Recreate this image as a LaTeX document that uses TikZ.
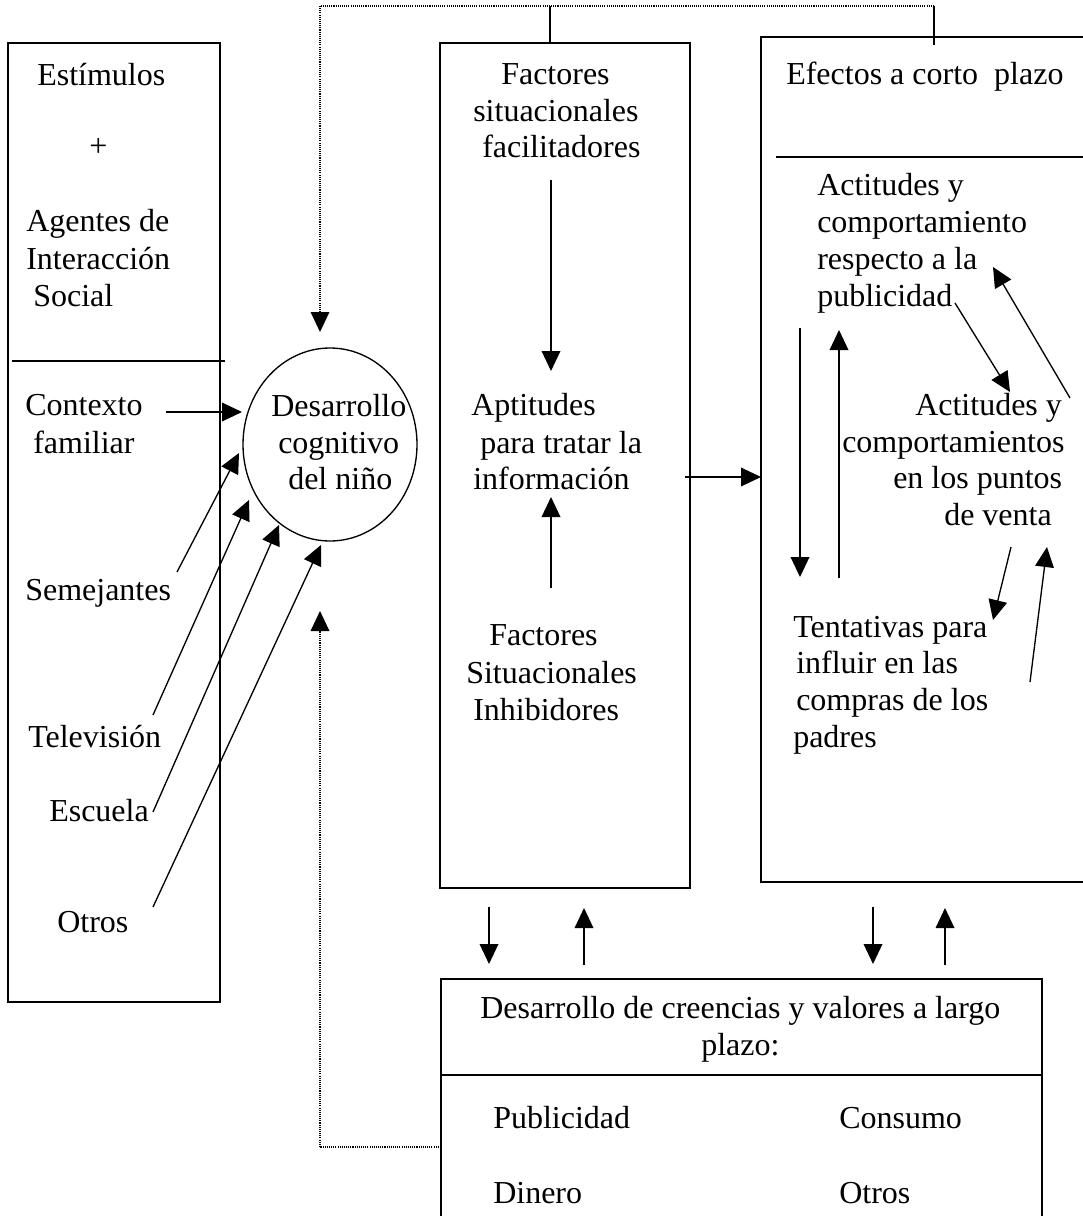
\documentclass[tikz,border=0pt]{standalone}
\usepackage{fontspec}
\setmainfont{Liberation Serif}
\usetikzlibrary{arrows.meta,shapes.geometric,fit}
\begin{document}
\begin{tikzpicture}[x=0.75pt,y=-0.75pt,
  txt/.style={anchor=base west,inner sep=0pt,font=\fontsize{24}{27.6}\selectfont},
  boxline/.style={line width=1.3pt},
  boxnode/.style={draw,boxline,inner sep=0pt},
  arr/.style={line width=1pt,-{Triangle[length=15pt,width=14pt]}},
  dots/.style={line width=0.9pt,dash pattern=on 0.8pt off 0.8pt}]
\useasboundingbox (0,0) rectangle (1082,1216);
\fill[white] (0,0) rectangle (1082,1216);

% ---------- boxes ----------
\node[boxnode,fit={(8,43)(220,1002)}] (lbox) {};
\draw[boxline] (12,361) -- (225,361);
\node[boxnode,fit={(440,43)(690,888)}] (mbox) {};
\draw[boxline] (1095,37) -- (761,37) -- (761,882) -- (1095,882);
\draw[boxline] (776,157) -- (1095,157);
\node[boxnode,fit={(441,979)(1042,1235)}] (bbox) {};
\draw[boxline] (441,1075) -- (1042,1075);
\node[ellipse,draw,line width=1pt,inner sep=0pt,minimum width=174*0.75pt,minimum height=193*0.75pt] (circ) at (330,444.5) {};

% ---------- texts ----------
\node[txt] (t1) at (37,86) {Estímulos};
\node[txt] (t2) at (89,157) {+};
\node[txt] (t3) at (26,232) {Agentes de};
\node[txt] (t4) at (26,269) {Interacción};
\node[txt] (t5) at (33,306) {Social};
\node[txt] (t6) at (25,415) {Contexto};
\node[txt] (t7) at (33,453) {familiar};
\node[txt] (t8) at (25,600) {Semejantes};
\node[txt] (t9) at (28,747) {Televisión};
\node[txt] (t10) at (49,821) {Escuela};
\node[txt] (t11) at (57,932) {Otros};
\node[txt] (c1) at (271,416) {Desarrollo};
\node[txt] (c2) at (278,453) {cognitivo};
\node[txt] (c3) at (288,489) {del niño};
\node[txt] (m1) at (501,85) {Factores};
\node[txt] (m2) at (473,122) {situacionales};
\node[txt] (m3) at (482,158) {facilitadores};
\node[txt] (m4) at (471,415) {Aptitudes};
\node[txt] (m5) at (480,453) {para tratar la};
\node[txt] (m6) at (473,489) {información};
\node[txt] (m7) at (489,645) {Factores};
\node[txt] (m8) at (466,683) {Situacionales};
\node[txt] (m9) at (473,720) {Inhibidores};
\node[txt] (r0) at (786,85) {Efectos a corto~~plazo};
\node[txt] (r1) at (817,196) {Actitudes y};
\node[txt] (r2) at (817,233) {comportamiento};
\node[txt] (r3) at (817,269) {respecto a la};
\node[txt] (r4) at (817,306) {publicidad};
\node[txt] (r5) at (915,415) {Actitudes y};
\node[txt] (r6) at (842,452) {comportamientos};
\node[txt] (r7) at (893,488) {en los puntos};
\node[txt] (r8) at (944,525) {de venta};
\node[txt] (r9) at (793,637) {Tentativas para};
\node[txt] (r10) at (796,673) {influir en las};
\node[txt] (r11) at (796,710) {compras de los};
\node[txt] (r12) at (793,747) {padres};
\node[txt] (b1) at (480,1018) {Desarrollo de creencias y valores a largo};
\node[txt] (b2) at (701,1055) {plazo:};
\node[txt] (b3) at (493,1128) {Publicidad};
\node[txt] (b4) at (839,1128) {Consumo};
\node[txt] (b5) at (493,1203) {Dinero};
\node[txt] (b6) at (839,1203) {Otros};

% ---------- connector end points ----------
\coordinate (ctxS) at (166,412);   \coordinate (ctxE) at (242,412);
\coordinate (semS) at (177,572);   \coordinate (semE) at (239,453);
\coordinate (telS) at (153,715);   \coordinate (telE) at (249,500);
\coordinate (escS) at (153,812);   \coordinate (escE) at (279,525);
\coordinate (otrS) at (153,907);   \coordinate (otrE) at (321,545);
\coordinate (topL) at (320,6);     \coordinate (topR) at (934,6);
\coordinate (topM) at (550,6);     \coordinate (topTip) at (320,332);
\coordinate (mTop) at (550,43);    \coordinate (rTop) at (934,45);
\coordinate (botA) at (441,1147);  \coordinate (botB) at (320,1147);
\coordinate (botTip) at (320,611);
\coordinate (mdS) at (551,180);    \coordinate (mdE) at (551,371);
\coordinate (muS) at (551,588);    \coordinate (muE) at (551,497);
\coordinate (hS) at (685,477);     \coordinate (hE) at (761,477);
\coordinate (rdS) at (800,328);    \coordinate (rdE) at (800,577);
\coordinate (ruS) at (839,578);    \coordinate (ruE) at (839,330);
\coordinate (d1S) at (955,303);    \coordinate (d1E) at (1010,392);
\coordinate (d2S) at (1070,398);   \coordinate (d2E) at (993,267);
\coordinate (d3S) at (1011,547);   \coordinate (d3E) at (993,620);
\coordinate (d4S) at (1030,682);   \coordinate (d4E) at (1047,547);
\coordinate (v1S) at (489,907);    \coordinate (v1E) at (489,964);
\coordinate (v2S) at (584,965);    \coordinate (v2E) at (584,908);
\coordinate (v3S) at (873,907);    \coordinate (v3E) at (873,964);
\coordinate (v4S) at (945,965);    \coordinate (v4E) at (945,908);

% ---------- connectors ----------
\draw[arr] (ctxS) -- (ctxE);
\draw[arr] (semS) -- (semE);
\draw[arr] (telS) -- (telE);
\draw[arr] (escS) -- (escE);
\draw[arr] (otrS) -- (otrE);
\draw[dots] (topR) -- (topL);
\draw[dots,-{Triangle[length=15pt,width=14pt]}] (topL) -- (topTip);
\draw[line width=1pt] (topM) -- (mTop);
\draw[line width=1pt] (topR) -- (rTop);
\draw[dots] (botA) -- (botB);
\draw[dots,-{Triangle[length=15pt,width=14pt]}] (botB) -- (botTip);
\draw[arr] (mdS) -- (mdE);
\draw[arr] (muS) -- (muE);
\draw[arr] (hS) -- (hE);
\draw[arr] (rdS) -- (rdE);
\draw[arr] (ruS) -- (ruE);
\draw[arr] (d1S) -- (d1E);
\draw[arr] (d2S) -- (d2E);
\draw[arr] (d3S) -- (d3E);
\draw[arr] (d4S) -- (d4E);
\draw[arr] (v1S) -- (v1E);
\draw[arr] (v2S) -- (v2E);
\draw[arr] (v3S) -- (v3E);
\draw[arr] (v4S) -- (v4E);
\end{tikzpicture}
\end{document}
